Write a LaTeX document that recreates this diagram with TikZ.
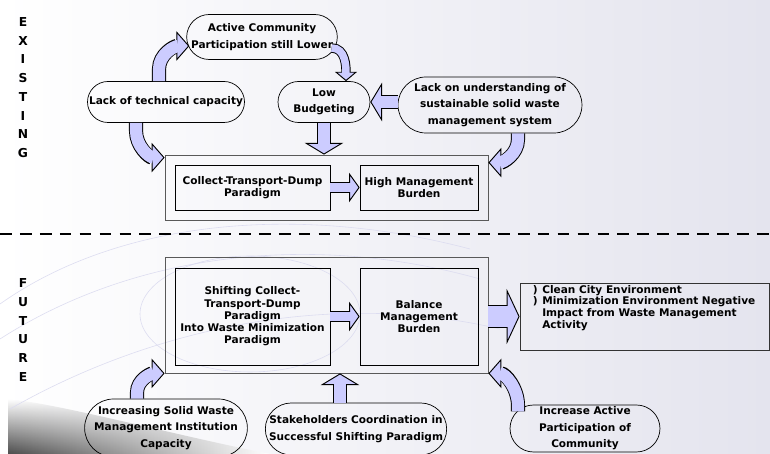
\documentclass[tikz,border=0pt]{standalone}
\usepackage{fontspec}
\setmainfont{DejaVu Sans}
\usetikzlibrary{arrows.meta,shapes.misc,calc,fadings}

\definecolor{lav}{RGB}{204,204,255}
\definecolor{bgright}{RGB}{228,228,238}
\definecolor{swirl}{RGB}{220,220,240}

\begin{document}
\begin{tikzpicture}[
		x=0.03cm, y=0.03cm,
		pill/.style = {
			draw, rounded rectangle, inner sep=0pt, align=center,
			line width=0.6pt,
			font=\fontsize{9}{14}\selectfont\bfseries
		},
		innerbox/.style = {
			draw, rectangle, inner sep=0pt, align=center,
			line width=0.6pt,
			font=\fontsize{9}{10.5}\selectfont\bfseries
		},
		outerbox/.style = {
			draw=black!65, rectangle, inner sep=0pt, line width=0.7pt
		},
		sidelabel/.style = {
			align=center, inner sep=0pt,
			font=\fontsize{10.5}{16}\selectfont\bfseries
		},
		listtext/.style = {
			inner sep=0pt,
			font=\fontsize{9}{10}\selectfont\bfseries
		},
		bentarrow/.style = {
			draw=lav, line width=10.4pt, shorten >=9.5pt,
			preaction={draw=black, line width=12pt, shorten >=0pt,
				-{Triangle[length=11pt, width=25pt, line width=0.8pt, color=black, fill=lav]}}
		},
		straightarrow/.style = {
			draw=lav, line width=10.4pt, shorten >=8.5pt,
			preaction={draw=black, line width=12pt, shorten >=0pt,
				-{Triangle[length=10pt, width=33pt, line width=0.8pt, color=black, fill=lav]}}
		},
		innerarrow/.style = {
			draw=lav, line width=8.4pt, shorten >=7.5pt,
			preaction={draw=black, line width=10pt, shorten >=0pt,
				-{Triangle[length=9pt, width=25pt, line width=0.8pt, color=black, fill=lav]}}
		},
		smallarrow/.style = {
			draw=lav, line width=6.4pt, shorten >=6.5pt,
			preaction={draw=black, line width=8pt, shorten >=0pt,
				-{Triangle[length=8pt, width=19pt, line width=0.8pt, color=black, fill=lav]}}
		},
		bigarrow/.style = {
			draw=lav, line width=18.4pt, shorten >=9.5pt,
			preaction={draw=black, line width=20pt, shorten >=0pt,
				-{Triangle[length=11pt, width=47pt, line width=0.8pt, color=black, fill=lav]}}
		}
	]

	% background
	\fill[left color=white, right color=bgright] (0,0) rectangle (770,454);
	\useasboundingbox (0,0) rectangle (770,454);
	\shade[left color=black!70, right color=white, path fading=north]
		(8,0) -- (8,55) .. controls (60,50) and (170,20) .. (270,0) -- cycle;
	\draw[swirl, line width=0.5pt] (0,150) .. controls (120,235) and (300,250) .. (470,205);
	\draw[swirl, line width=0.5pt] (0,115) .. controls (140,205) and (320,220) .. (480,175);
	\draw[swirl, line width=0.5pt] (10,45) .. controls (150,125) and (330,165) .. (500,125);
	\draw[swirl, line width=0.5pt] (250,140) ellipse (110 and 58);

	% side labels
	\node[sidelabel] (existlabel) at (23,366.5) {E\\X\\I\\S\\T\\I\\N\\G};
	\node[sidelabel] (futurelabel) at (23,124) {F\\U\\T\\U\\R\\E};

	% existing
	\node[pill, minimum width=122pt, minimum height=38.4pt] (active) at (262,417)
		{Active Community\\Participation still Lower};
	\node[pill, minimum width=134pt, minimum height=35pt] (lackcap) at (166,352)
		{Lack of technical capacity};
	\node[pill, minimum width=78.5pt, minimum height=35pt] (lowbudget) at (324,352)
		{Low\\Budgeting};
	\node[pill, minimum width=157pt, minimum height=47.8pt] (lackund) at (490,349)
		{Lack on understanding of\\sustainable solid waste\\management system};

	\node[outerbox, minimum width=275.7pt, minimum height=55.5pt] (exist) at (326.5,266.5) {};
	\node[innerbox, minimum width=132.3pt, minimum height=38.4pt] (collect) at (252.5,266.5)
		{Collect-Transport-Dump\\Paradigm};
	\node[innerbox, minimum width=100.7pt, minimum height=38.4pt] (high) at (419,266.5)
		{High Management\\Burden};

	\draw[line width=1.4pt, dash pattern=on 10pt off 7pt] (0,220) -- (770,220);

	% future
	\node[outerbox, minimum width=275.7pt, minimum height=99pt] (future) at (326.5,139) {};
	\node[innerbox, minimum width=132.3pt, minimum height=82.8pt] (shifting) at (252.5,137.5)
		{Shifting Collect-\\Transport-Dump\\Paradigm\\Into Waste Minimization\\Paradigm};
	\node[innerbox, minimum width=100.7pt, minimum height=82.8pt] (balance) at (419,137.5)
		{Balance\\Management\\Burden};
	\node[outerbox, draw=black!80, minimum width=213pt, minimum height=57.2pt] (result) at (644.75,137.5) {};
	\node[listtext, anchor=north west] (resultlist) at ($(result.north west)+(13,-2)$)
		{\begin{tabular}{@{}l@{\hspace{4pt}}l@{}}
			) & Clean City Environment\\
			) & Minimization Environment Negative\\
			  & Impact from Waste Management\\
			  & Activity
		\end{tabular}};

	\node[pill, minimum width=134pt, minimum height=49.5pt] (increasing) at (166,26)
		{Increasing Solid Waste\\Management Institution\\Capacity};
	\node[pill, minimum width=143.4pt, minimum height=44.4pt] (stake) at (356,25)
		{Stakeholders Coordination in\\Successful Shifting Paradigm};
	\node[pill, minimum width=128pt, minimum height=40.1pt] (increase) at (585,25.5)
		{Increase Active\\Participation of\\Community};

	% arrows, existing
	\draw[bentarrow] ($(lackcap.north)+(-7,0)$) -- ++(0,12) to[out=90, in=180] ($(active.west)+(3,-9)$);
	\draw[smallarrow] ($(active.east)+(-6,-11)$) to[out=0, in=90] ($(lowbudget.north)+(22,0)$);
	\draw[straightarrow] (lackund.west |- lowbudget.east) -- (lowbudget.east);
	\draw[straightarrow] (lowbudget.south) -- (lowbudget.south |- exist.north);
	\draw[bentarrow] ($(lackcap.south)+(-30,0)$) -- ++(0,-8) to[out=-90, in=180] ($(exist.north west)+(0,-3)$);
	\draw[bentarrow] ($(lackund.south)+(28,0)$) -- ++(0,-6) to[out=-90, in=0] ($(exist.north east)+(0,-8)$);
	\draw[innerarrow] (collect.east) -- (high.west);

	% arrows, future
	\draw[innerarrow] (shifting.east) -- (balance.west);
	\draw[bigarrow] (future.east |- result.west) -- (result.west);
	\draw[bentarrow] ($(increasing.north)+(-29,0)$) -- ++(0,6) to[out=90, in=180] (future.south west);
	\coordinate (stakefoot) at ($(stake.north)+(-16,0)$);
	\draw[straightarrow] (stakefoot) -- (stakefoot |- future.south);
	\coordinate (increasefoot) at ($(increase.center)+(-67,17)$);
	\draw[bentarrow] (increasefoot) -- ++(0,6) to[out=90, in=0] (future.south east);
\end{tikzpicture}
\end{document}
